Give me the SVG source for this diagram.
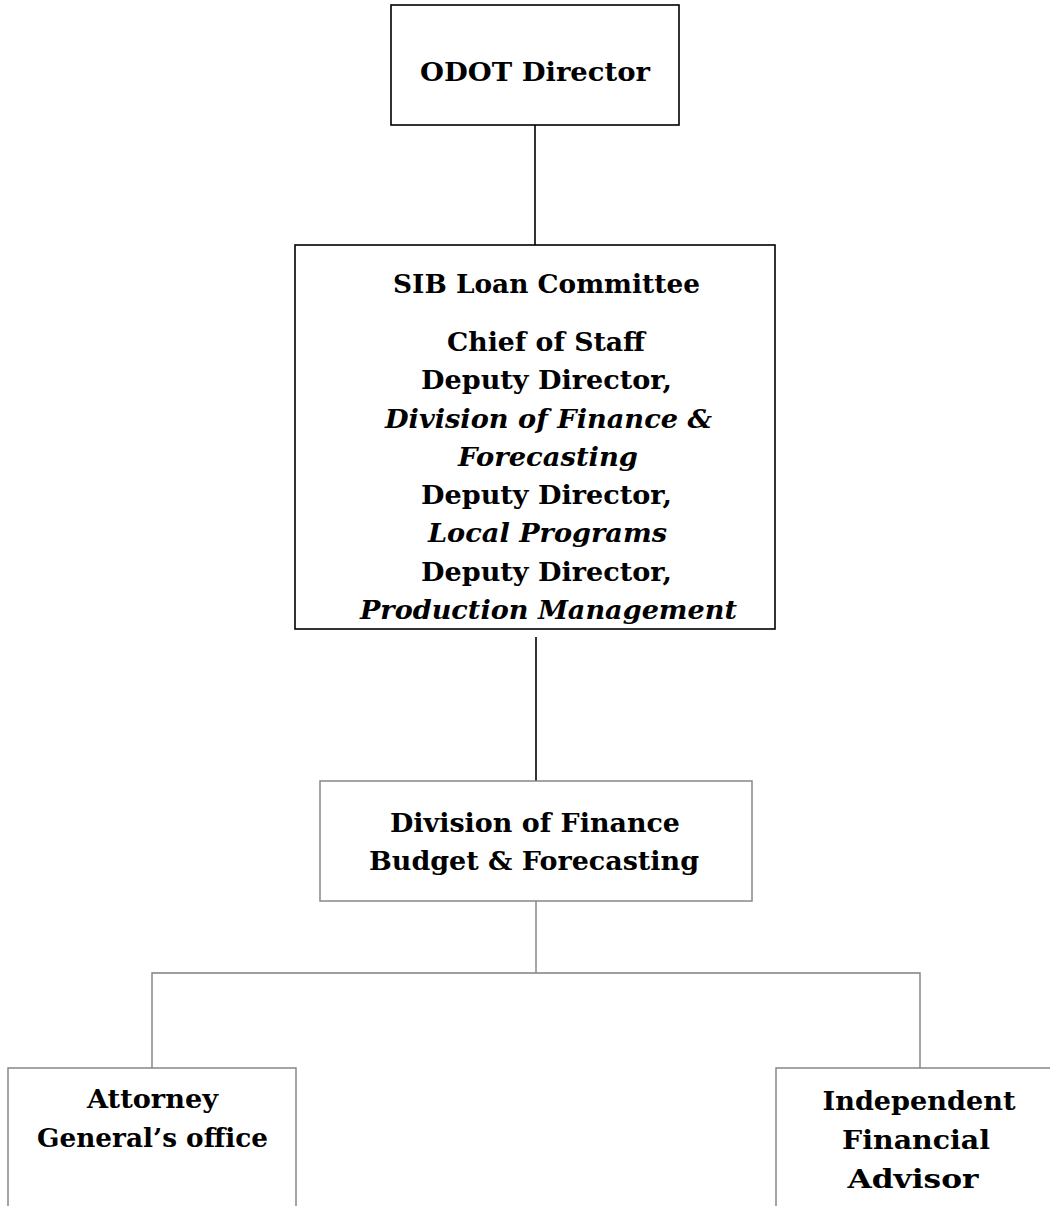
<svg xmlns="http://www.w3.org/2000/svg" width="1050" height="1206" viewBox="0 0 1050 1206">
<style>
.bk{fill:#fff;stroke:#000;stroke-width:1.6}
.gr{fill:#fff;stroke:#7f7f7f;stroke-width:1.4}
.cb{stroke:#000;stroke-width:1.6;fill:none}
.cg{stroke:#7f7f7f;stroke-width:1.4;fill:none}
text{font-family:"DejaVu Serif","Liberation Serif",serif;font-weight:bold;font-size:26px;fill:#000;text-anchor:middle}
.it{font-style:italic}
</style>
<rect width="1050" height="1206" fill="#fff"/>
<g id="connectors">
<line class="cb" x1="535" y1="125" x2="535" y2="245"/>
<line class="cb" x1="536" y1="637" x2="536" y2="781"/>
<line class="cg" x1="536" y1="901" x2="536" y2="973"/>
<polyline class="cg" points="152,1068 152,973 920,973 920,1068"/>
</g>
<g id="odot-director">
<rect class="bk" x="391" y="5" width="288" height="120"/>
<text x="535" y="81" textLength="230" lengthAdjust="spacingAndGlyphs">ODOT Director</text>
</g>
<g id="sib-loan-committee">
<rect class="bk" x="295" y="245" width="480" height="384"/>
<text x="546.5" y="293" textLength="307" lengthAdjust="spacingAndGlyphs">SIB Loan Committee</text>
<text x="546" y="351" textLength="198" lengthAdjust="spacingAndGlyphs">Chief of Staff</text>
<text x="546.5" y="389" textLength="251" lengthAdjust="spacingAndGlyphs">Deputy Director,</text>
<text class="it" x="548.5" y="428" textLength="327" lengthAdjust="spacingAndGlyphs">Division of Finance &amp;</text>
<text class="it" x="548" y="466" textLength="180" lengthAdjust="spacingAndGlyphs">Forecasting</text>
<text x="546.5" y="504" textLength="251" lengthAdjust="spacingAndGlyphs">Deputy Director,</text>
<text class="it" x="547.5" y="542" textLength="239" lengthAdjust="spacingAndGlyphs">Local Programs</text>
<text x="546.5" y="581" textLength="251" lengthAdjust="spacingAndGlyphs">Deputy Director,</text>
<text class="it" x="548.5" y="619" textLength="377" lengthAdjust="spacingAndGlyphs">Production Management</text>
</g>
<g id="division-finance">
<rect class="gr" x="320" y="781" width="432" height="120"/>
<text x="535" y="832" textLength="290" lengthAdjust="spacingAndGlyphs">Division of Finance</text>
<text x="534" y="870" textLength="330" lengthAdjust="spacingAndGlyphs">Budget &amp; Forecasting</text>
</g>
<g id="attorney-general">
<rect class="gr" x="8" y="1068" width="288" height="160"/>
<text x="152.5" y="1108" textLength="131" lengthAdjust="spacingAndGlyphs">Attorney</text>
<text x="152.5" y="1147" textLength="231" lengthAdjust="spacingAndGlyphs">General’s office</text>
</g>
<g id="financial-advisor">
<rect class="gr" x="776" y="1068" width="300" height="160"/>
<text x="919" y="1110" textLength="193" lengthAdjust="spacingAndGlyphs">Independent</text>
<text x="916" y="1149" textLength="148" lengthAdjust="spacingAndGlyphs">Financial</text>
<text x="913" y="1188" textLength="131" lengthAdjust="spacingAndGlyphs">Advisor</text>
</g>
</svg>
